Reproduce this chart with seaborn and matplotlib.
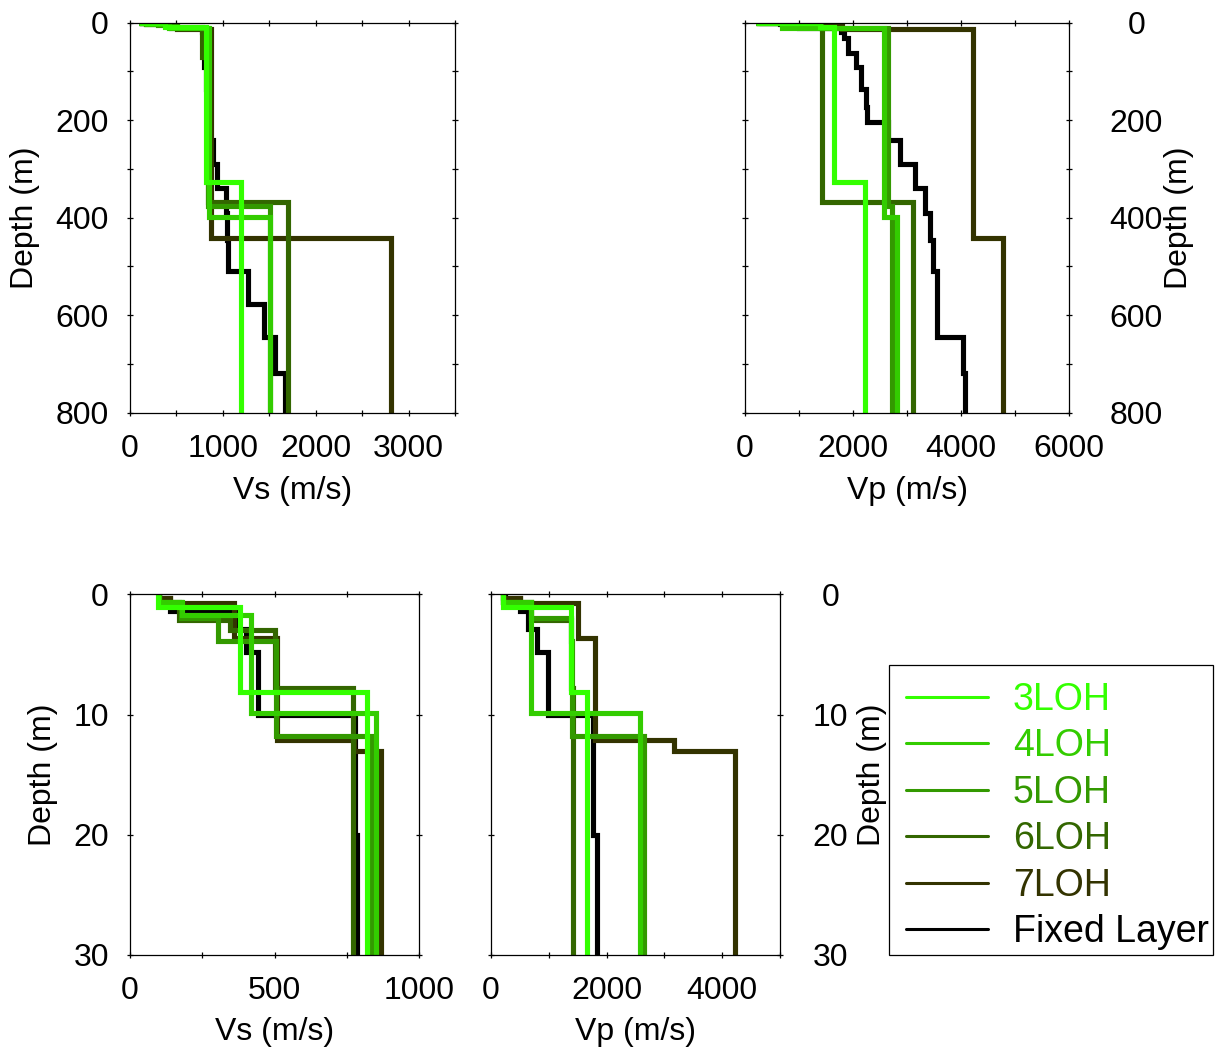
import numpy as np
import pandas as pd
import matplotlib
matplotlib.use("Agg")
import matplotlib.pyplot as plt
import seaborn as sns
from matplotlib.lines import Line2D
from matplotlib.patches import Rectangle
from matplotlib.ticker import MultipleLocator

# ---------------- data: layered models (layer top depth in m, velocities in m/s)
models = ["3LOH", "4LOH", "5LOH", "6LOH", "7LOH", "Fixed Layer"]
colors = ["#33ff00", "#33cc00", "#339900", "#336600", "#333300", "#000000"]

top_3LOH = [0, 1.05, 8.15, 326]
vs_3LOH = [98, 382, 820, 1195]
vp_3LOH = [210, 1380, 1655, 2225]

top_4LOH = [0, 0.6, 1.75, 9.9, 399]
vs_4LOH = [100, 180, 420, 852, 1508]
vp_4LOH = [210, 690, 690, 2578, 2810]

top_5LOH = [0, 0.6, 2.0, 3.9, 11.8, 377]
vs_5LOH = [100, 175, 305, 505, 836, 1508]
vp_5LOH = [210, 690, 1390, 1400, 2640, 2715]

top_6LOH = [0, 0.6, 2.1, 3.0, 7.8, 70, 367]
vs_6LOH = [100, 170, 346, 500, 772, 845, 1700]
vp_6LOH = [210, 690, 1390, 1390, 1424, 1424, 3110]

top_7LOH = [0, 0.3, 0.7, 3.6, 12.1, 13.0, 442]
vs_7LOH = [100, 140, 360, 510, 775, 870, 2815]
vp_7LOH = [210, 500, 1511, 1800, 3160, 4215, 4780]

top_fixed = [0, 0.3, 1.4, 2.9, 4.8, 10, 20, 32, 63, 90, 135, 172, 203, 241,
             289, 340, 391, 446, 509, 576, 645, 718]
vs_fixed = [100, 140, 365, 401, 444, 778, 786, 790, 800, 815, 830, 845, 860,
            890, 940, 1034, 1045, 1059, 1274, 1443, 1562, 1665]
vp_fixed = [250, 500, 640, 796, 990, 1770, 1830, 1900, 2050, 2140, 2230, 2250,
            2650, 2867, 3145, 3330, 3422, 3484, 3545, 3545, 4039, 4070]

max_depth = 800

tops = [top_3LOH, top_4LOH, top_5LOH, top_6LOH, top_7LOH, top_fixed]
vss = [vs_3LOH, vs_4LOH, vs_5LOH, vs_6LOH, vs_7LOH, vs_fixed]
vps = [vp_3LOH, vp_4LOH, vp_5LOH, vp_6LOH, vp_7LOH, vp_fixed]


def step_profile(top, vel):
    bottoms = list(top[1:]) + [max_depth]
    xs, ys = [], []
    for t, b, v in zip(top, bottoms, vel):
        xs += [v, v]
        ys += [t, b]
    return xs, ys


rows = []
for name, t, vs, vp in zip(models, tops, vss, vps):
    for qty, vel in (("Vs", vs), ("Vp", vp)):
        xs, ys = step_profile(t, vel)
        for i, (x, y) in enumerate(zip(xs, ys)):
            rows.append(dict(model=name, qty=qty, velocity=x, depth=y, order=i))
df = pd.DataFrame(rows)

palette = dict(zip(models, colors))
draw_order = models[::-1]  # fixed layer underneath, 3LOH on top

# ---------------- figure
sns.set_style("white")
plt.rcParams["font.family"] = ["Liberation Sans", "DejaVu Sans"]
plt.rcParams["text.color"] = "black"
plt.rcParams["axes.labelcolor"] = "black"
plt.rcParams["xtick.color"] = "black"
plt.rcParams["ytick.color"] = "black"
W, H = 1218, 1047
fig = plt.figure(figsize=(W / 100, H / 100), dpi=100)

FS = 23


def make_ax(x0, x1, y0, y1):
    return fig.add_axes([x0 / W, 1 - y1 / H, (x1 - x0) / W, (y1 - y0) / H])


ax_tl = make_ax(130, 455, 22.7, 412.7)
ax_tr = make_ax(745, 1069.3, 22.7, 412.7)
ax_bl = make_ax(130, 419, 594.3, 955)
ax_bm = make_ax(491, 780, 594.3, 955)

panels = [
    (ax_tl, "Vs", (0, 3500), 1000, 500, (800, 0), 200, 100, "left"),
    (ax_tr, "Vp", (0, 6000), 2000, 1000, (800, 0), 200, 100, "right"),
    (ax_bl, "Vs", (0, 1000), 500, 250, (30, 0), 10, 10, "left"),
    (ax_bm, "Vp", (0, 5000), 2000, 1000, (30, 0), 10, 10, "right"),
]

for ax, qty, xlim, xmaj, xmin, ylim, ymaj, ymin, side in panels:
    sub = df[df["qty"] == qty]
    sns.lineplot(data=sub, x="velocity", y="depth", hue="model",
                 hue_order=draw_order, palette=palette, sort=False,
                 estimator=None, units="model", lw=3.7, legend=False, ax=ax,
                 solid_joinstyle="miter", solid_capstyle="butt")
    ax.set_xlim(*xlim)
    ax.set_ylim(*ylim)
    ax.xaxis.set_major_locator(MultipleLocator(xmaj))
    ax.xaxis.set_minor_locator(MultipleLocator(xmin))
    ax.yaxis.set_major_locator(MultipleLocator(ymaj))
    ax.yaxis.set_minor_locator(MultipleLocator(ymin))
    for sp in ax.spines.values():
        sp.set_visible(True)
        sp.set_color("black")
        sp.set_linewidth(0.9)
    ax.tick_params(which="both", direction="inout", top=True, bottom=True,
                   left=True, right=True, width=0.9, color="black",
                   labelcolor="black")
    ax.tick_params(which="major", length=4.5)
    ax.tick_params(which="minor", length=4.5)
    ax.tick_params(axis="x", labelsize=FS, pad=13)
    ax.set_xlabel(f"{qty} (m/s)", fontsize=FS, color="black")
    ax.set_ylabel("Depth (m)", fontsize=FS, color="black")
    if side == "left":
        ax.tick_params(axis="y", labelsize=FS, pad=13, labelleft=True,
                       labelright=False)
    else:
        ax.yaxis.set_label_position("right")
        ax.tick_params(axis="y", labelsize=FS, labelleft=False,
                       labelright=True)

# tick label / axis label placement
ax_tr.tick_params(axis="y", pad=46)
ax_bm.tick_params(axis="y", pad=34)
for ax in (ax_tr, ax_bm):
    for lab in ax.get_yticklabels():
        lab.set_horizontalalignment("center")

ax_tl.xaxis.set_label_coords(0.5, -0.162)
ax_tr.xaxis.set_label_coords(0.5, -0.162)
ax_bl.xaxis.set_label_coords(0.5, -0.172)
ax_bm.xaxis.set_label_coords(0.5, -0.172)
ax_tl.yaxis.set_label_coords(-0.277, 0.5)
ax_bl.yaxis.set_label_coords(-0.249, 0.5)
ax_tr.yaxis.set_label_coords(1.292, 0.5)
ax_bm.yaxis.set_label_coords(1.266, 0.5)

# legend (frame drawn separately to match the reference box)
handles = [Line2D([0], [0], color=c, lw=2.2) for c in colors]
leg = fig.legend(handles, models, loc="upper left",
                 bbox_to_anchor=(889 / W, 1 - 665 / H),
                 bbox_transform=fig.transFigure, frameon=False,
                 fontsize=27, handlelength=2.2, handletextpad=0.65,
                 labelspacing=0.28, borderpad=0.45, borderaxespad=0,
                 labelcolor="linecolor")
fig.patches.append(Rectangle((889 / W, 1 - 955 / H), (1213 - 889) / W,
                             (955 - 665) / H, transform=fig.transFigure,
                             fill=False, edgecolor="black", linewidth=0.9,
                             figure=fig))

fig.savefig("out.png", dpi=100, facecolor="white")
